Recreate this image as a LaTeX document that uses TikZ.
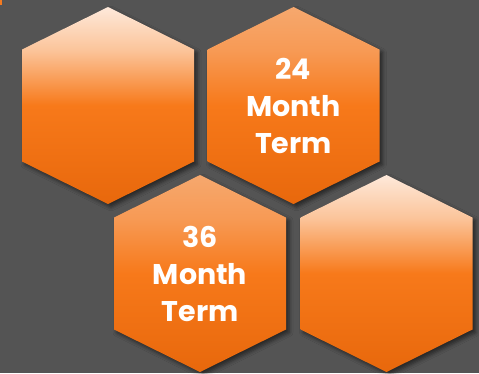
\documentclass[tikz,border=0pt]{standalone}
\usepackage{fontspec}
\setmainfont{Poppins}
\usetikzlibrary{shadows.blur}
\definecolor{bg}{HTML}{545454}
\definecolor{oA}{HTML}{E8680C}
\definecolor{oB}{HTML}{F7791A}
\definecolor{pB}{HTML}{FBC49A}
\definecolor{pA}{HTML}{FEE9DA}
\definecolor{qB}{HTML}{F79A55}
\definecolor{qA}{HTML}{F6A86E}
\definecolor{spot}{HTML}{F47A20}
\pgfdeclareverticalshading{hexlight}{100bp}{color(0bp)=(oA); color(25bp)=(oA); color(50bp)=(oB); color(64bp)=(pB); color(75bp)=(pA); color(100bp)=(pA)}
\pgfdeclareverticalshading{hexdark}{100bp}{color(0bp)=(oA); color(25bp)=(oA); color(50bp)=(oB); color(64bp)=(qB); color(75bp)=(qA); color(100bp)=(qA)}
\tikzset{
  hexbase/.style={blur shadow={shadow xshift=3pt, shadow yshift=-3pt, shadow blur radius=4pt, shadow opacity=55}},
  hexlightfill/.style={hexbase, shading=hexlight},
  hexdarkfill/.style={hexbase, shading=hexdark},
  hexlabel/.style={text=white, align=center, inner sep=0pt, font=\bfseries\fontsize{28.5}{37}\selectfont}
}
\newcommand{\hexpath}[3]{%
  \path[#3] (#1,#2-98.5) -- (#1+86,#2-56) -- (#1+86,#2+56) -- (#1,#2+98.5) -- (#1-86,#2+56) -- (#1-86,#2-56) -- cycle;}
\begin{document}
\begin{tikzpicture}[x=1pt,y=-1pt]
  \fill[bg] (0,0) rectangle (479,373);
  \useasboundingbox (0,0) rectangle (479,373);
  \fill[spot] (0,0) rectangle (2,5);
  \hexpath{108}{105.5}{hexlightfill}
  \hexpath{293.5}{105.5}{hexdarkfill}
  \hexpath{200}{273.5}{hexdarkfill}
  \hexpath{386.5}{273.5}{hexlightfill}
  \node[hexlabel] (t24) at (293.5,105.5) {24\\Month\\Term};
  \node[hexlabel] (t36) at (200,273.5) {36\\Month\\Term};
\end{tikzpicture}
\end{document}
